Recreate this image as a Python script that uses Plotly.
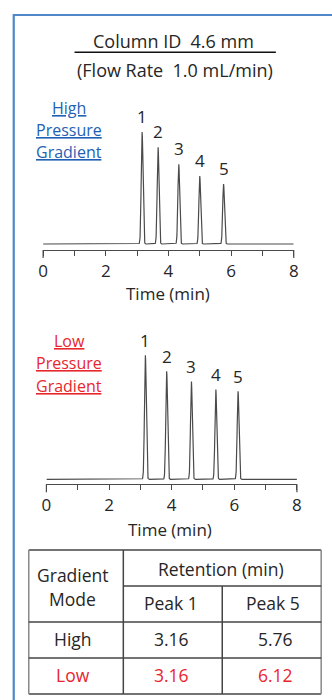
import numpy as np
import plotly.graph_objects as go

W, H = 332, 700

# ---------------- data ----------------
peak_labels = ["1", "2", "3", "4", "5"]
high_rt = [3.16, 3.67, 4.33, 5.00, 5.76]          # min
high_height = [112, 97, 80, 68, 60]                # relative absorbance
low_rt = [3.16, 3.84, 4.63, 5.41, 6.12]
low_height = [124, 108, 98, 90, 88]
peak_sigma = 0.028                                 # min (peak width)

x_ticks = [0, 1, 2, 3, 4, 5, 6, 7, 8]
x_ticktext = ["0", "", "2", "", "4", "", "6", "", "8"]

table_modes = ["High", "Low"]
table_peak1 = ["3.16", "3.16"]
table_peak5 = ["5.76", "6.12"]

FONT = "Open Sans"
BLUE = "#1F5FB4"
RED = "#E8262E"
DARK = "#262626"
LINE = "#4a4a4a"


def px(x):
    return x / W


def py(y):
    return 1 - y / H


t = np.arange(0, 8.0001, 0.004)


def chromatogram(rts, hs):
    s = np.zeros_like(t)
    for rt, h in zip(rts, hs):
        s += h * np.exp(-0.5 * ((t - rt) / peak_sigma) ** 2)
    return s


fig = go.Figure()
fig.add_trace(go.Scatter(x=t, y=chromatogram(high_rt, high_height), mode="lines",
                         line=dict(color=LINE, width=1.2), xaxis="x", yaxis="y",
                         hoverinfo="skip", showlegend=False))
fig.add_trace(go.Scatter(x=t, y=chromatogram(low_rt, low_height), mode="lines",
                         line=dict(color=LINE, width=1.2), xaxis="x2", yaxis="y2",
                         hoverinfo="skip", showlegend=False))

xcommon = dict(range=[0, 8], tickvals=x_ticks, ticktext=x_ticktext, showline=True,
               linecolor=LINE, linewidth=1.2, ticks="outside", ticklen=5, tickwidth=1.2,
               tickcolor=LINE, showgrid=False, zeroline=False, fixedrange=True,
               tickfont=dict(family=FONT, size=17, color=DARK))
ycommon = dict(visible=False, showgrid=False, zeroline=False, fixedrange=True)

fig.update_layout(
    width=W, height=H, margin=dict(l=0, r=0, t=0, b=0),
    paper_bgcolor="white", plot_bgcolor="white",
    xaxis=dict(domain=[px(39.3), px(297.7)], anchor="y", **xcommon),
    yaxis=dict(domain=[py(250), py(100)], range=[-6, 144], **ycommon),
    xaxis2=dict(domain=[px(42.7), px(301)], anchor="y2", **xcommon),
    yaxis2=dict(domain=[py(484.3), py(335)], range=[-5, 144.3], **ycommon),
)

ann = []
shapes = []


def text(x, y, s, size=16, color=DARK, xanchor="center"):
    ann.append(dict(x=px(x), y=py(y), xref="paper", yref="paper", text=s,
                    showarrow=False, xanchor=xanchor, yanchor="middle",
                    font=dict(family=FONT, size=size, color=color)))


def line(x0, y0, x1, y1, color=DARK, width=1.5):
    shapes.append(dict(type="line", xref="paper", yref="paper", x0=px(x0), y0=py(y0),
                       x1=px(x1), y1=py(y1), line=dict(color=color, width=width)))


# outer blue frame
shapes.append(dict(type="rect", xref="paper", yref="paper", x0=px(9), y0=py(15),
                   x1=px(345), y1=py(715), line=dict(color="#4F87C9", width=2.2)))

# header
text(173.5, 41, "Column ID\u00a0 4.6 mm", size=18)
line(71.7, 52.3, 279.3, 52.3, color="#111", width=1.5)
text(175, 70, "(Flow Rate\u00a0 1.0 mL/min)", size=18)

# side labels
for s, y in zip(["High", "Pressure", "Gradient"], [108, 130, 152]):
    text(66.5, y, "<u>" + s + "</u>", size=16, color=BLUE)
for s, y in zip(["Low", "Pressure", "Gradient"], [340.7, 362.5, 386]):
    text(66.5, y, "<u>" + s + "</u>", size=16, color=RED)

# peak labels
for xa, ya, rts, hs, sh in [("x", "y", high_rt, high_height, 2), ("x2", "y2", low_rt, low_height, 1)]:
    for lab, rt, h in zip(peak_labels, rts, hs):
        ann.append(dict(x=rt, y=h, xref=xa, yref=ya, text=lab, showarrow=False,
                        xanchor="center", yanchor="bottom", yshift=sh,
                        font=dict(family=FONT, size=17, color=DARK)))

# axis titles
text(168, 293, "Time (min)", size=17)
text(170, 529, "Time (min)", size=17)

# longer end ticks
for x0, ya in [(39.3, 250), (297.7, 250), (42.7, 484.3), (301, 484.3)]:
    line(x0, ya, x0, ya + 8, color=LINE, width=1.2)

# table
TL, TR, TT, TB = 24.5, 326, 550, 694
C1, C2 = 122, 224
R0, R1, R2 = 586, 622, 658
tc = "#444"
line(TL, TT, TR, TT, tc)
line(TL, TB, TR, TB, tc)
line(TL, TT, TL, TB, "#888")
line(TR, TT, TR, TB, "#888")
line(C1, TT, C1, TB, tc)
line(C2, R0, C2, TB, tc)
line(C1, R0, TR, R0, tc)
line(TL, R1, TR, R1, tc)
line(TL, R2, TR, R2, tc)

TS = 17.5
text(70, 575, "Gradient", size=TS)
text(70, 599, "Mode", size=TS)
text(223, 569, "Retention (min)", size=TS)
text(171, 603, "Peak 1", size=TS)
text(276, 603, "Peak 5", size=TS)
row_colors = [DARK, RED]
for i, (m, p1, p5) in enumerate(zip(table_modes, table_peak1, table_peak5)):
    yy = 639 + 36 * i
    text(70, yy, m, size=TS, color=row_colors[i])
    text(172, yy, p1, size=TS, color=row_colors[i])
    text(279, yy, p5, size=TS, color=row_colors[i])

fig.update_layout(annotations=ann, shapes=shapes)
fig.write_html("out.html")
